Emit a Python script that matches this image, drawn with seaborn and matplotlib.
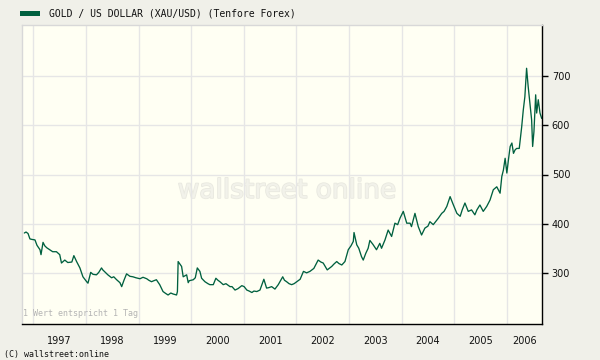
import matplotlib
matplotlib.use("Agg")
import matplotlib.pyplot as plt
import matplotlib.patheffects as pe
from matplotlib.patches import Rectangle
import seaborn as sns
import pandas as pd

title = "GOLD / US DOLLAR (XAU/USD) (Tenfore Forex)"
years = list(range(1997, 2007))
y_ticks = [300, 400, 500, 600, 700]

dates = [
    "1996-10-30", "1996-11-11", "1996-11-25", "1996-12-08", "1996-12-22",
    "1997-01-12", "1997-01-26", "1997-02-16", "1997-02-23", "1997-03-09",
    "1997-03-21", "1997-04-04", "1997-04-25", "1997-05-15", "1997-06-10",
    "1997-07-03", "1997-07-15", "1997-08-07", "1997-08-28", "1997-09-25",
    "1997-10-09", "1997-10-28", "1997-11-20", "1997-12-11", "1998-01-06",
    "1998-01-15", "1998-02-03", "1998-02-19", "1998-03-15", "1998-03-31",
    "1998-04-19", "1998-04-28", "1998-05-19", "1998-06-02", "1998-06-28",
    "1998-07-13", "1998-08-02", "1998-08-25", "1998-09-06", "1998-09-22",
    "1998-10-10", "1998-11-02", "1998-11-23", "1998-12-14", "1999-01-11",
    "1999-02-01", "1999-02-27", "1999-03-13", "1999-04-01", "1999-04-17",
    "1999-05-05", "1999-05-28", "1999-06-20", "1999-07-09", "1999-07-25",
    "1999-08-13", "1999-08-29", "1999-09-22", "1999-09-28", "1999-10-03",
    "1999-10-15", "1999-10-27", "1999-11-07", "1999-12-01", "1999-12-12",
    "1999-12-19", "2000-01-16", "2000-01-30", "2000-02-13", "2000-03-02",
    "2000-03-14", "2000-04-06", "2000-04-27", "2000-05-10", "2000-06-03",
    "2000-06-21", "2000-07-05", "2000-07-19", "2000-08-11", "2000-08-30",
    "2000-09-27", "2000-10-11", "2000-11-01", "2000-11-22", "2000-12-18",
    "2001-01-03", "2001-01-22", "2001-02-07", "2001-02-26", "2001-03-12",
    "2001-04-01", "2001-04-23", "2001-05-20", "2001-06-08", "2001-06-24",
    "2001-07-13", "2001-08-05", "2001-08-28", "2001-09-28", "2001-10-10",
    "2001-10-25", "2001-11-11", "2001-11-29", "2001-12-16", "2002-01-04",
    "2002-01-27", "2002-02-19", "2002-03-13", "2002-04-05", "2002-05-02",
    "2002-06-01", "2002-06-20", "2002-07-06", "2002-08-03", "2002-09-03",
    "2002-09-19", "2002-10-08", "2002-10-23", "2002-11-12", "2002-12-04",
    "2002-12-27", "2003-01-15", "2003-01-31", "2003-02-05", "2003-02-24",
    "2003-03-10", "2003-03-29", "2003-04-10", "2003-04-28", "2003-05-14",
    "2003-05-26", "2003-06-16", "2003-07-11", "2003-08-03", "2003-08-15",
    "2003-09-08", "2003-09-30", "2003-10-24", "2003-11-16", "2003-12-05",
    "2003-12-21", "2004-01-13", "2004-02-06", "2004-02-29", "2004-03-10",
    "2004-04-03", "2004-04-26", "2004-05-19", "2004-06-11", "2004-07-02",
    "2004-07-16", "2004-08-08", "2004-08-27", "2004-09-12", "2004-10-06",
    "2004-10-22", "2004-11-10", "2004-12-03", "2004-12-26", "2005-01-19",
    "2005-02-11", "2005-02-25", "2005-03-16", "2005-04-08", "2005-05-01",
    "2005-05-24", "2005-06-07", "2005-06-28", "2005-07-21", "2005-08-14",
    "2005-09-06", "2005-09-29", "2005-10-23", "2005-11-15", "2005-11-27",
    "2005-12-08", "2005-12-20", "2006-01-01", "2006-01-12", "2006-01-24",
    "2006-02-05", "2006-02-16", "2006-02-27", "2006-03-10", "2006-03-28",
    "2006-04-14", "2006-04-25", "2006-05-06", "2006-05-18", "2006-05-29",
    "2006-06-10", "2006-06-22", "2006-06-29", "2006-07-08", "2006-07-20",
    "2006-07-27", "2006-08-07", "2006-08-19", "2006-08-31",
]
prices = [
    381, 383, 380, 369, 368,
    367, 356, 347, 337, 362,
    355, 351, 347, 343, 343,
    337, 320, 326, 321, 322,
    335, 323, 310, 292, 282,
    279, 301, 297, 296, 301,
    310, 306, 300, 296, 290,
    292, 286, 280, 272, 285,
    298, 293, 292, 290, 288,
    291, 288, 285, 282, 284,
    286, 276, 262, 258, 255,
    259, 257, 255, 262, 323,
    318, 313, 292, 296, 280,
    284, 286, 290, 310, 303,
    289, 282, 278, 276, 276,
    289, 285, 282, 276, 278,
    272, 272, 265, 268, 274,
    272, 265, 263, 260, 263,
    262, 265, 287, 269, 270,
    272, 267, 276, 292, 285,
    282, 278, 276, 278, 282,
    287, 303, 300, 303, 309,
    326, 322, 320, 306, 313,
    318, 323, 319, 316, 323,
    347, 355, 364, 382, 357,
    350, 333, 326, 340, 350,
    366, 358, 347, 360, 350,
    367, 387, 374, 401, 398,
    411, 425, 401, 401, 394,
    421, 394, 377, 391, 395,
    404, 398, 405, 411, 421,
    425, 435, 455, 438, 421,
    415, 428, 442, 425, 428,
    418, 428, 438, 425, 435,
    448, 469, 475, 462, 496,
    509, 533, 503, 530, 557,
    564, 543, 550, 553, 553,
    597, 631, 658, 716, 679,
    645, 611, 557, 587, 662,
    625, 652, 625, 614,
]

df = pd.DataFrame({"date": pd.to_datetime(dates), "price": prices})

sns.set_style("white")
plt.rcParams["font.family"] = ["DejaVu Sans"]

BG = "#f0f0e9"
FACE = "#fffff3"
LINE = "#00603f"

fig = plt.figure(figsize=(6, 3.6), dpi=100, facecolor=BG)
ax = fig.add_axes([22 / 600, 36 / 360, 520 / 600, 299 / 360])
ax.set_facecolor(FACE)

sns.lineplot(data=df, x="date", y="price", ax=ax, color=LINE, linewidth=0.95)

x0 = pd.Timestamp("1996-10-14")
x1 = pd.Timestamp("2006-09-02")
ax.set_xlim(x0, x1)
ax.set_ylim(196, 804)

year_starts = [pd.Timestamp(f"{y}-01-01") for y in years]
ax.set_xticks(year_starts)
ax.set_xticklabels([])
ax.tick_params(axis="x", which="major", direction="out", length=4, width=1, color="black")
mids = []
for y in years:
    a = max(pd.Timestamp(f"{y}-01-01"), x0)
    b = min(pd.Timestamp(f"{y + 1}-01-01"), x1)
    mids.append(a + (b - a) / 2)
ax.set_xticks(mids, minor=True)
ax.set_xticklabels([str(y) for y in years], minor=True, fontsize=7, color="#111111")
ax.tick_params(axis="x", which="minor", length=0, pad=9)

ax.yaxis.tick_right()
ax.set_yticks(y_ticks)
ax.set_yticklabels([str(v) for v in y_ticks], fontsize=7, color="#111111")
ax.tick_params(axis="y", direction="out", length=4, width=1, color="black", pad=3)

ax.grid(True, which="major", color="#e6e6e6", linewidth=1)
ax.set_axisbelow(True)
ax.set_xlabel("")
ax.set_ylabel("")

for side in ["top", "left"]:
    ax.spines[side].set_color("#d8d8d8")
    ax.spines[side].set_linewidth(1)
for side in ["bottom", "right"]:
    ax.spines[side].set_color("black")
    ax.spines[side].set_linewidth(1)

# watermark
ax.text(0.51, 0.445, "wallstreet online", transform=ax.transAxes, ha="center", va="center",
        fontsize=19, color="#f2f2ea", zorder=0.5,
        path_effects=[pe.withStroke(linewidth=1.2, foreground="#e9e9e0")])

ax.text(0.002, 0.02, "1 Wert entspricht 1 Tag", transform=ax.transAxes, ha="left", va="bottom",
        fontsize=6, color="#b4b4b4", family="DejaVu Sans Mono")

fig.patches.append(Rectangle((20 / 600, 1 - 16 / 360), 20 / 600, 5 / 360,
                             transform=fig.transFigure, facecolor=LINE, edgecolor="none"))
fig.text(49 / 600, 1 - 13.5 / 360, title, ha="left", va="center", fontsize=7,
         family="DejaVu Sans Mono", color="#111111")
fig.text(4 / 600, 1 - 354 / 360, "(C) wallstreet:online", ha="left", va="center", fontsize=6,
         family="DejaVu Sans Mono", color="#111111")

fig.savefig("out.png", dpi=100, facecolor=BG)
